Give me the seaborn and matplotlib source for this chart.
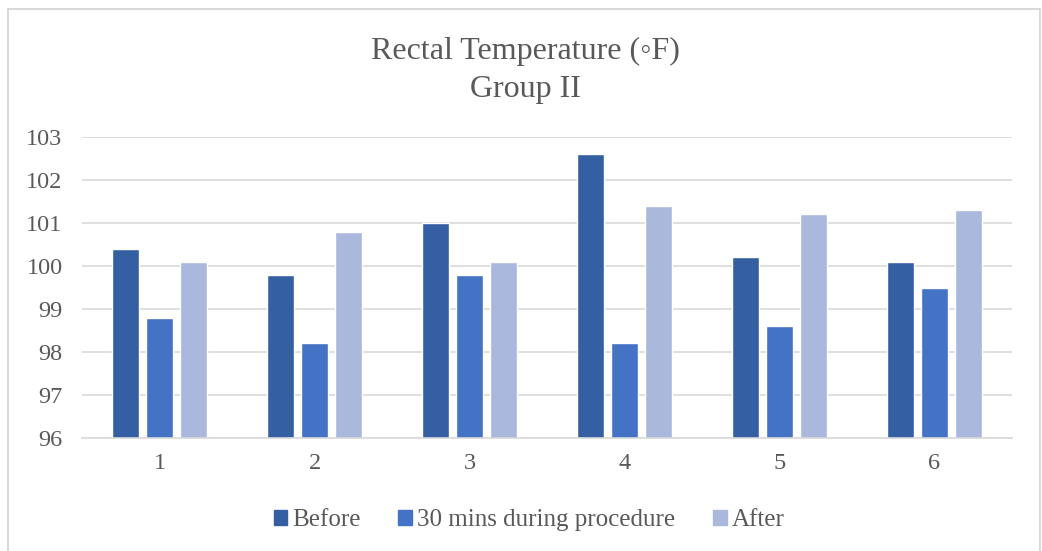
import matplotlib
matplotlib.use("Agg")
import matplotlib.pyplot as plt
import seaborn as sns
import pandas as pd
from matplotlib.patches import Rectangle

categories = ["1", "2", "3", "4", "5", "6"]
before = [100.4, 99.8, 101.0, 102.6, 100.2, 100.1]
during = [98.8, 98.2, 99.8, 98.2, 98.6, 99.5]
after = [100.1, 100.8, 100.1, 101.4, 101.2, 101.3]
series_names = ["Before", "30 mins during procedure", "After"]
colors = ["#355FA3", "#4472C4", "#A9B8DC"]

rows = []
for name, vals in zip(series_names, [before, during, after]):
    for c, v in zip(categories, vals):
        rows.append({"cat": c, "series": name, "value": v})
df = pd.DataFrame(rows)

sns.set_theme(style="white")
serif = ["Liberation Serif", "DejaVu Serif"]
plt.rcParams["font.family"] = serif

fig = plt.figure(figsize=(10.42, 5.51), dpi=100)
ax = fig.add_axes([82/1042, 1-438/551, 930/1042, 301/551])

sns.barplot(data=df, x="cat", y="value", hue="series", order=categories,
            hue_order=series_names, palette=colors, width=0.66, gap=0.2,
            ax=ax, saturation=1, legend=False)
ax.set_ylim(96, 103)
ax.set_xlim(-0.5, 5.5)
ax.set_yticks(range(96, 104))
ax.yaxis.grid(True, color="#D9D9D9", linewidth=1.2)
ax.set_axisbelow(True)
for s in ["top", "right", "left"]:
    ax.spines[s].set_visible(False)
ax.spines["bottom"].set_color("#D9D9D9")
ax.spines["bottom"].set_linewidth(1.2)
ax.tick_params(axis="both", length=0, labelsize=17.5, labelcolor="#595959")
ax.tick_params(axis="y", pad=14)
ax.tick_params(axis="x", pad=11)
ax.set_xlabel("")
ax.set_ylabel("")

fig.text(0.5 + 4/1042, 1-51/551, "Rectal Temperature (\u25e6F)", ha="center", va="center",
         fontsize=23, color="#595959", family=serif)
fig.text(0.5 + 4/1042, 1-89/551, "Group II", ha="center", va="center",
         fontsize=23, color="#595959", family=serif)

handles = [Rectangle((0, 0), 1, 1, color=c) for c in colors]
fig.legend(handles, series_names, loc="center", bbox_to_anchor=(0.5 + 8/1042, 1-520/551),
           ncol=3, frameon=False, fontsize=18, labelcolor="#595959",
           handlelength=0.55, handleheight=0.55, handletextpad=0.2, columnspacing=1.5)

fig.add_artist(Rectangle((8/1042, -0.05), 1032/1042, 1.05 - 9/551, transform=fig.transFigure,
                         fill=False, edgecolor="#D9D9D9", linewidth=1.5))
fig.savefig("out.png", dpi=100, facecolor="white")
